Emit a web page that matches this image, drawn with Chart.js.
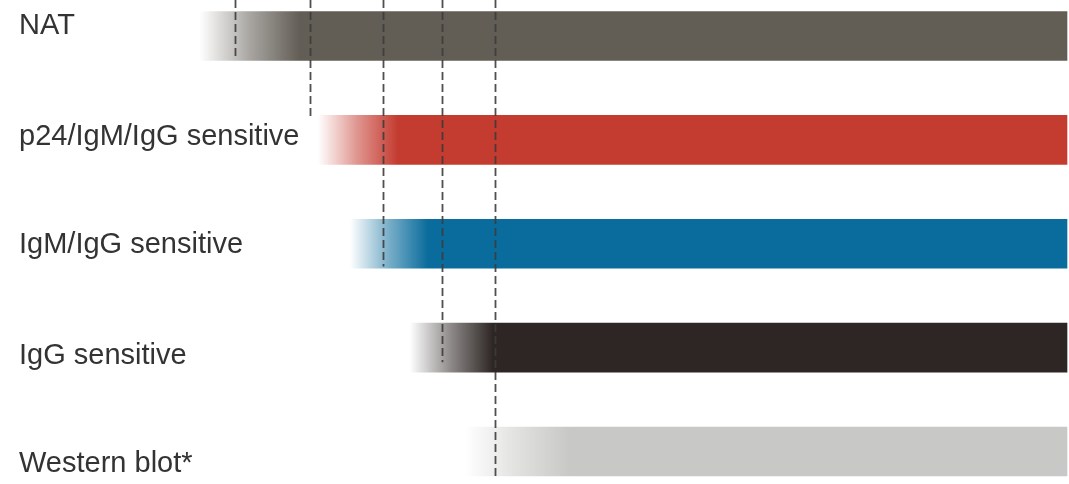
<!DOCTYPE html>
<html>
<head>
<meta charset="utf-8">
<script src="https://cdn.jsdelivr.net/npm/chart.js@4.4.1/dist/chart.umd.min.js"></script>
<style>
  html, body { margin: 0; padding: 0; background: #ffffff; }
  #wrap { width: 1069px; height: 484px; position: relative; }
</style>
</head>
<body>
<div id="wrap"><canvas id="c"></canvas></div>
<script>
// ---- data (relative time scale 0–100) ----
const categories = ['NAT', 'p24/IgM/IgG sensitive', 'IgM/IgG sensitive', 'IgG sensitive', 'Western blot*'];
const fadeStart  = [18.7, 29.8, 32.8, 38.4, 43.6];   // where each bar begins to appear
const solidFrom  = [28.1, 37.3, 40.1, 46.2, 53.4];   // where each bar reaches full colour
const barEnd     = [100, 100, 100, 100, 100];
const markerX    = [22.0, 29.1, 35.9, 41.4, 46.4];   // dashed detection lines
const markerEnd  = [0.23, 0.78, 2.22, 3.14, 4.25];   // row position where each dashed line stops
const labelRow   = [-0.1, 0.97, 2.01, 3.08, 4.12];   // row position of each label

// ---- styles ----
const barColors = [[98, 93, 85], [196, 59, 48], [10, 108, 156], [45, 38, 36], [200, 200, 198]];
const rgba = (c, a) => `rgba(${c[0]},${c[1]},${c[2]},${a})`;

const fadeBg = (ctx) => {
  const chart = ctx.chart;
  const i = ctx.dataIndex;
  const col = barColors[i];
  if (!chart.chartArea || !chart.scales.x) return rgba(col, 1);
  const xs = chart.scales.x;
  const x0 = xs.getPixelForValue(fadeStart[i]);
  const x1 = xs.getPixelForValue(solidFrom[i]);
  const g = chart.ctx.createLinearGradient(x0, 0, x1, 0);
  g.addColorStop(0, rgba(col, 0));
  g.addColorStop(0.5, rgba(col, 0.55));
  g.addColorStop(1, rgba(col, 1));
  return g;
};

const markerPlugin = {
  id: 'markers',
  afterDatasetsDraw(chart) {
    const { ctx, scales: { x, y } } = chart;
    ctx.save();
    ctx.strokeStyle = 'rgba(60,60,60,0.9)';
    ctx.lineWidth = 1.8;
    ctx.setLineDash([8, 4]);
    markerX.forEach((v, i) => {
      const px = Math.round(x.getPixelForValue(v)) + 0.5;
      ctx.beginPath();
      ctx.moveTo(px, 0);
      ctx.lineTo(px, y.getPixelForValue(markerEnd[i]));
      ctx.stroke();
    });
    ctx.restore();
  }
};

const labelPlugin = {
  id: 'rowLabels',
  afterDatasetsDraw(chart) {
    const { ctx, chartArea, scales: { y } } = chart;
    ctx.save();
    ctx.fillStyle = '#333333';
    ctx.font = "29px 'Liberation Sans', Arial, sans-serif";
    ctx.textAlign = 'left';
    ctx.textBaseline = 'middle';
    categories.forEach((c, i) => {
      ctx.fillText(c, chartArea.left + 19, y.getPixelForValue(labelRow[i]));
    });
    ctx.restore();
  }
};

new Chart(document.getElementById('c'), {
  type: 'bar',
  data: {
    labels: categories,
    datasets: [{
      data: categories.map((c, i) => [fadeStart[i], barEnd[i]]),
      backgroundColor: fadeBg,
      borderWidth: 0,
      barThickness: 49,
      clip: false
    }]
  },
  options: {
    indexAxis: 'y',
    responsive: true,
    maintainAspectRatio: false,
    animation: false,
    layout: { padding: { top: 36, bottom: 32.5, left: 0, right: 2 } },
    plugins: { legend: { display: false }, tooltip: { enabled: false } },
    scales: {
      x: { type: 'linear', min: 0, max: 100, display: false },
      y: { type: 'category', offset: false, display: false }
    }
  },
  plugins: [markerPlugin, labelPlugin]
});
</script>
</body>
</html>
